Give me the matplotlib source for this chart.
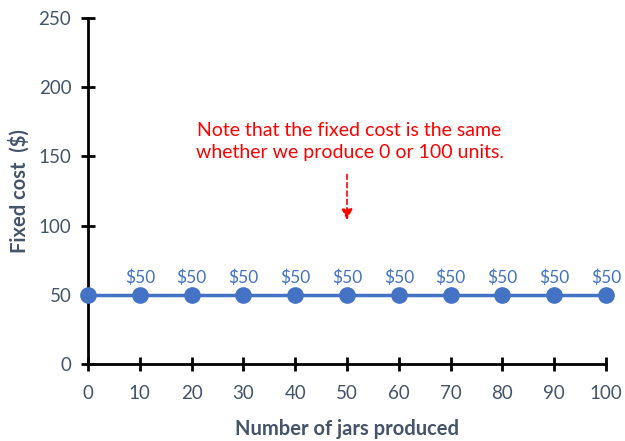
import matplotlib
matplotlib.use("Agg")
import matplotlib.pyplot as plt

plt.rcParams['font.family'] = ['Lato', 'DejaVu Sans']

# fixed cost stays flat whatever the output level
jars = [0, 10, 20, 30, 40, 50, 60, 70, 80, 90, 100]
fixed_cost = [50, 50, 50, 50, 50, 50, 50, 50, 50, 50, 50]

x_ticks = list(range(0, 101, 10))
y_ticks = [0, 50, 100, 150, 200, 250]

note = "Note that the fixed cost is the same\nwhether we produce 0 or 100 units."

axis_grey = "#44546A"
blue = "#4472C4"

fig = plt.figure(figsize=(6.25, 4.41), dpi=100)
ax = fig.add_axes([0.1408, 0.1746, 0.8288, 0.7846])

ax.plot(jars, fixed_cost, color=blue, lw=2.5, marker="o", ms=11,
        clip_on=False, zorder=3)

# value labels, skipping the first point on the axis
for x, y in zip(jars[1:], fixed_cost[1:]):
    ax.annotate(f"${y}", (x, y), xytext=(0, 6), textcoords="offset points",
                ha="center", va="bottom", color=blue, fontsize=12.5)

ax.set_xlim(0, 100)
ax.set_ylim(0, 250)
ax.set_xticks(x_ticks)
ax.set_yticks(y_ticks)

for side in ("top", "right"):
    ax.spines[side].set_visible(False)
for side in ("left", "bottom"):
    ax.spines[side].set_linewidth(2)
    ax.spines[side].set_color("black")

ax.tick_params(direction="inout", length=10, width=2, color="black",
               labelcolor=axis_grey, labelsize=13.5)
ax.tick_params(axis="x", pad=10)
ax.tick_params(axis="y", pad=7)

ax.set_xlabel("Number of jars produced", fontsize=14.5, fontweight="bold",
              color=axis_grey, labelpad=12)
ax.set_ylabel("Fixed cost  ($)", fontsize=14.5, fontweight="bold",
              color=axis_grey, labelpad=6)

ax.text(50.5, 161, note, color="red", fontsize=14, ha="center",
        va="center", linespacing=1.35)
ax.annotate("", xy=(50, 102), xytext=(50, 139),
            arrowprops=dict(arrowstyle="-|>", color="red", lw=1.2,
                            linestyle=(0, (3, 2)), mutation_scale=16))

fig.savefig("out.png", dpi=100)
